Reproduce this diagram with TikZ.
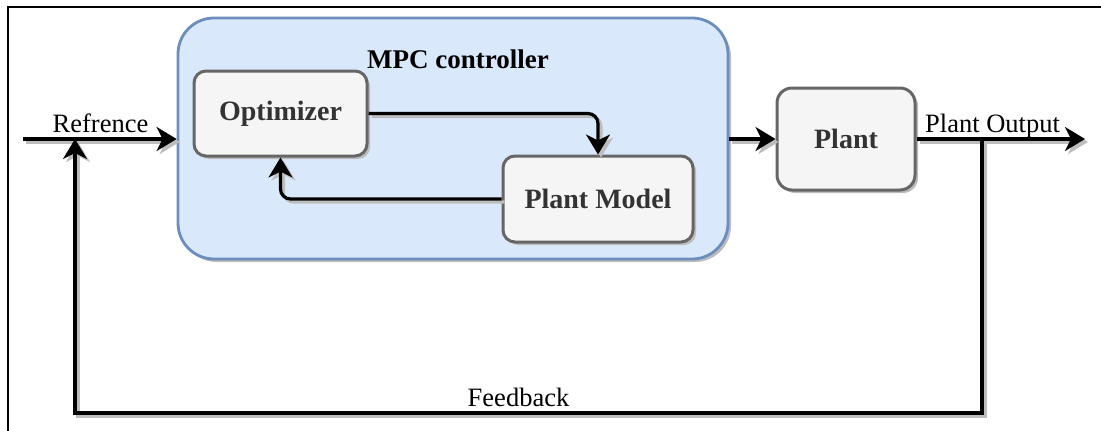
\documentclass[tikz,border=0pt]{standalone}
\usepackage{fontspec}
\setmainfont{Liberation Serif}
\usetikzlibrary{arrows.meta,shadows}
\definecolor{mpcfill}{HTML}{DAE8FC}
\definecolor{mpcline}{HTML}{6C8EBF}
\definecolor{boxfill}{HTML}{F5F5F5}
\definecolor{boxline}{HTML}{666666}
\definecolor{boxtext}{HTML}{333333}
\definecolor{shade}{HTML}{BDBDBD}
\begin{document}
\begin{tikzpicture}[x=1pt,y=-1pt,
  boxshadow/.style={drop shadow={shadow xshift=3pt,shadow yshift=-3pt,fill=shade,opacity=1}},
  block/.style={draw=boxline,fill=boxfill,line width=3pt,rounded corners=12pt,
    font=\fontsize{28}{32}\selectfont\bfseries,text=boxtext,inner sep=0pt,boxshadow},
  container/.style={draw=mpcline,fill=mpcfill,line width=2.8pt,rounded corners=36pt,
    inner sep=0pt,boxshadow},
  wire/.style={draw=black,line width=3.2pt,
    preaction={draw=shade,line width=3.2pt,transform canvas={shift={(3pt,-3pt)}}}},
  tip/.tip={Stealth[length=20pt,width=24pt,inset=6pt]},
  lbl/.style={font=\fontsize{26.5}{30}\selectfont,inner sep=0pt,anchor=base},
  title/.style={font=\fontsize{27}{32}\selectfont\bfseries,inner sep=0pt,anchor=base}]
\useasboundingbox (0,0) rectangle (1101,431);

% outer frame edges
\coordinate (frameTL) at (8,7);
\coordinate (frameTR) at (1101,7);
\coordinate (frameBL) at (8,431);
\draw[line width=1.6pt] (frameTR) -- (frameTL) -- (frameBL);

% controller container and its inner blocks
\node[container,minimum width=550pt,minimum height=241pt] (mpc) at (453,138.5) {};
\node[title] (mpctitle) at (458,68) {MPC controller};
\node[block,minimum width=173pt,minimum height=85pt] (opt) at (280.5,113.5) {Optimizer};
\node[block,minimum width=190pt,minimum height=86pt] (pm) at (598,199) {Plant Model};
\node[block,minimum width=138pt,minimum height=102pt,rounded corners=15pt] (plant) at (846,139) {Plant};

% loose ends of the signal lines
\coordinate (refin) at (23,139);
\coordinate (out) at (1085,139);
\coordinate (tap) at (982,139);
\coordinate (fbR) at (982,413);
\coordinate (fbL) at (75,413);
\coordinate (join) at (75,139);

% signal flow
\draw[wire,-tip] (refin) -- (refin -| mpc.west);
\draw[wire,-tip] (mpc.east |- plant.west) -- (plant.west);
\draw[wire,-tip] (plant.east) -- (out);
\draw[wire,-tip] (tap) -- (fbR) -- (fbL) -- (join);
\draw[wire,-tip,rounded corners=10pt] (opt.east) -| (pm.north);
\draw[wire,-tip,rounded corners=10pt] (pm.west) -| (opt.south);

% labels
\node[lbl] (reflbl) at (100.5,132) {Refrence};
\node[lbl] (outlbl) at (992.5,132) {Plant Output};
\node[lbl] (fblbl) at (518.5,406) {Feedback};
\end{tikzpicture}
\end{document}
